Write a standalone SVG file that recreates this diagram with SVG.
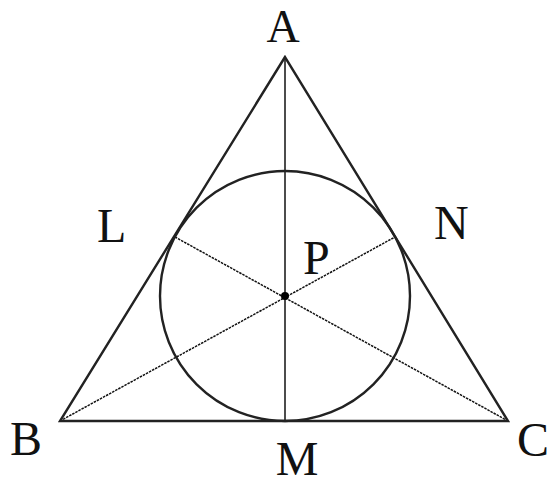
<svg xmlns="http://www.w3.org/2000/svg" width="550" height="484" viewBox="0 0 550 484">
<style>
.lbl{font-family:"Liberation Serif","Times New Roman",serif;font-size:48px;fill:#111}
.edge{stroke:#222;stroke-width:2.4;fill:none}
.thin{stroke:#111;stroke-width:1.5;fill:none}
.dash{stroke:#111;stroke-width:1.5;fill:none;stroke-dasharray:2.5 1}
</style>
<rect width="550" height="484" fill="#fff"/>
<g id="connectors">
<line class="thin" x1="285" y1="57" x2="285" y2="421"/>
<line class="dash" x1="60" y1="421" x2="395" y2="237"/>
<line class="dash" x1="508" y1="421" x2="175" y2="237"/>
</g>
<g id="triangle">
<polygon class="edge" points="285,57 60,421 508,421"/>
</g>
<g id="incircle">
<circle class="edge" cx="285" cy="296" r="125"/>
</g>
<g id="P">
<circle cx="285" cy="296" r="4" fill="#000"/>
<text class="lbl" x="303" y="274">P</text>
</g>
<g id="A"><text class="lbl" x="283" y="42" text-anchor="middle" style="font-size:46px">A</text></g>
<g id="B"><text class="lbl" x="10" y="455">B</text></g>
<g id="C"><text class="lbl" x="517" y="456">C</text></g>
<g id="M"><text class="lbl" x="297" y="475" text-anchor="middle">M</text></g>
<g id="L"><text class="lbl" x="97" y="242">L</text></g>
<g id="N"><text class="lbl" x="434" y="239">N</text></g>
</svg>
